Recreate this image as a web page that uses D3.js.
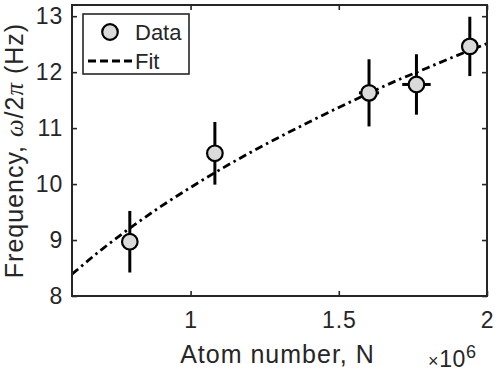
<!DOCTYPE html>
<html><head><meta charset="utf-8">
<script src="https://cdn.jsdelivr.net/npm/d3@7"></script>
<style>
html,body{margin:0;padding:0;background:#fff;}
svg{display:block;font-family:"Liberation Sans",Arial,sans-serif;}
</style></head>
<body><svg id="chart" width="498" height="375"></svg>
<script>
// Data (atom number in units of 1e6, frequency in Hz)
const atomN   = [0.795, 1.082, 1.602, 1.762, 1.942];
const freq    = [8.97, 10.55, 11.63, 11.78, 12.46];
const freqErr = [0.55, 0.56, 0.60, 0.54, 0.53];
const atomErr = [0.020, 0.020, 0.034, 0.048, 0.022];
// Fit curve
const fitN = [0.6, 0.7, 0.8, 0.9, 1.0, 1.1, 1.2, 1.3, 1.4, 1.5, 1.6, 1.7, 1.8, 1.9, 2.0];
const fitF = [8.39, 8.83, 9.23, 9.60, 9.94, 10.26, 10.56, 10.84, 11.11, 11.37, 11.62, 11.86, 12.08, 12.30, 12.51];
const xTicks = [1, 1.5, 2];
const yTicks = [8, 9, 10, 11, 12, 13];

const svg = d3.select("#chart");
const L = 72, R = 487, T = 5, B = 296;
const ink = "#262626";
const x = d3.scaleLinear().domain([0.6, 2.0]).range([L, R]);
const y = d3.scaleLinear().domain([8, 13.2]).range([B, T]);
const dash = "8,4,2.5,4";

// fit line
svg.append("path")
  .datum(fitN.map((n, i) => [n, fitF[i]]))
  .attr("fill", "none").attr("stroke", "#000").attr("stroke-width", 2.8)
  .attr("stroke-dasharray", dash)
  .attr("d", d3.line().x(d => x(d[0])).y(d => y(d[1])).curve(d3.curveMonotoneX));

// error bars
const pts = atomN.map((n, i) => ({n, f: freq[i], fe: freqErr[i], ne: atomErr[i]}));
const g = svg.append("g");
g.selectAll("line.v").data(pts).join("line").attr("class", "v")
  .attr("x1", d => x(d.n)).attr("x2", d => x(d.n))
  .attr("y1", d => y(d.f - d.fe)).attr("y2", d => y(d.f + d.fe))
  .attr("stroke", "#000").attr("stroke-width", 3);
g.selectAll("line.h").data(pts).join("line").attr("class", "h")
  .attr("x1", d => x(d.n - d.ne)).attr("x2", d => x(d.n + d.ne))
  .attr("y1", d => y(d.f)).attr("y2", d => y(d.f))
  .attr("stroke", "#000").attr("stroke-width", 3);
g.selectAll("circle").data(pts).join("circle")
  .attr("cx", d => x(d.n)).attr("cy", d => y(d.f)).attr("r", 7.8)
  .attr("fill", "#dadada").attr("stroke", "#000").attr("stroke-width", 2.2);

// axes (box with inward ticks)
const tickLen = 5;
const fontTick = 23;
function styleAxis(sel) {
  sel.select(".domain").remove();
  sel.selectAll(".tick line").attr("stroke", ink).attr("stroke-width", 1.6);
  sel.selectAll("text").attr("fill", ink).attr("font-size", fontTick)
     .attr("font-family", "Liberation Sans, Arial, sans-serif")
     .attr("letter-spacing", 0.8);
}
const xb = svg.append("g").attr("transform", `translate(0,${B})`)
  .call(d3.axisBottom(x).tickValues(xTicks).tickFormat(d3.format("")).tickSizeInner(-tickLen).tickSizeOuter(0).tickPadding(13));
styleAxis(xb);
xb.selectAll("text").attr("dy", "0.82em");
const xt = svg.append("g").attr("transform", `translate(0,${T})`)
  .call(d3.axisTop(x).tickValues(xTicks).tickFormat("").tickSizeInner(-tickLen).tickSizeOuter(0));
styleAxis(xt);
const yl = svg.append("g").attr("transform", `translate(${L},0)`)
  .call(d3.axisLeft(y).tickValues(yTicks).tickFormat(d3.format("d")).tickSizeInner(-tickLen).tickSizeOuter(0).tickPadding(9));
styleAxis(yl);
const yr = svg.append("g").attr("transform", `translate(${R},0)`)
  .call(d3.axisRight(y).tickValues(yTicks).tickFormat("").tickSizeInner(-tickLen).tickSizeOuter(0));
styleAxis(yr);

svg.append("rect").attr("x", L).attr("y", T).attr("width", R - L).attr("height", B - T)
  .attr("fill", "none").attr("stroke", ink).attr("stroke-width", 2);

// axis labels
svg.append("text").attr("x", (L + R) / 2 - 2).attr("y", 363)
  .attr("text-anchor", "middle").attr("font-size", 25).attr("fill", ink)
  .attr("letter-spacing", 1.0)
  .text("Atom number, N");

const ex = svg.append("text").attr("x", 428).attr("y", 367).attr("fill", ink).attr("font-size", 21)
  .attr("letter-spacing", 0.6);
ex.append("tspan").attr("font-size", 18).text("×");
ex.append("tspan").attr("font-size", 23).text("10");
ex.append("tspan").attr("font-size", 18).attr("dy", -9).text("6");

const ylab = svg.append("text")
  .attr("transform", `translate(23,${(T + B) / 2}) rotate(-90)`)
  .attr("text-anchor", "middle").attr("font-size", 25).attr("fill", ink)
  .attr("letter-spacing", 1.0);
ylab.append("tspan").text("Frequency, ");
ylab.append("tspan").attr("font-family", "Liberation Serif, serif").attr("font-style", "italic").text("ω");
ylab.append("tspan").text("/2");
ylab.append("tspan").attr("font-family", "Liberation Serif, serif").attr("font-style", "italic").text("π");
ylab.append("tspan").text(" (Hz)");

// legend
const lg = svg.append("g");
lg.append("rect").attr("x", 83).attr("y", 14).attr("width", 106).attr("height", 60)
  .attr("fill", "#fff").attr("stroke", ink).attr("stroke-width", 1.6);
lg.append("circle").attr("cx", 110).attr("cy", 32).attr("r", 7.8)
  .attr("fill", "#dadada").attr("stroke", "#000").attr("stroke-width", 2.2);
lg.append("text").attr("x", 135).attr("y", 40).attr("font-size", 22).attr("fill", ink).text("Data");
lg.append("line").attr("x1", 88).attr("x2", 132).attr("y1", 61).attr("y2", 61)
  .attr("stroke", "#000").attr("stroke-width", 2.8).attr("stroke-dasharray", "8,4");
lg.append("text").attr("x", 135).attr("y", 69).attr("font-size", 22).attr("fill", ink).text("Fit");
</script></body></html>
